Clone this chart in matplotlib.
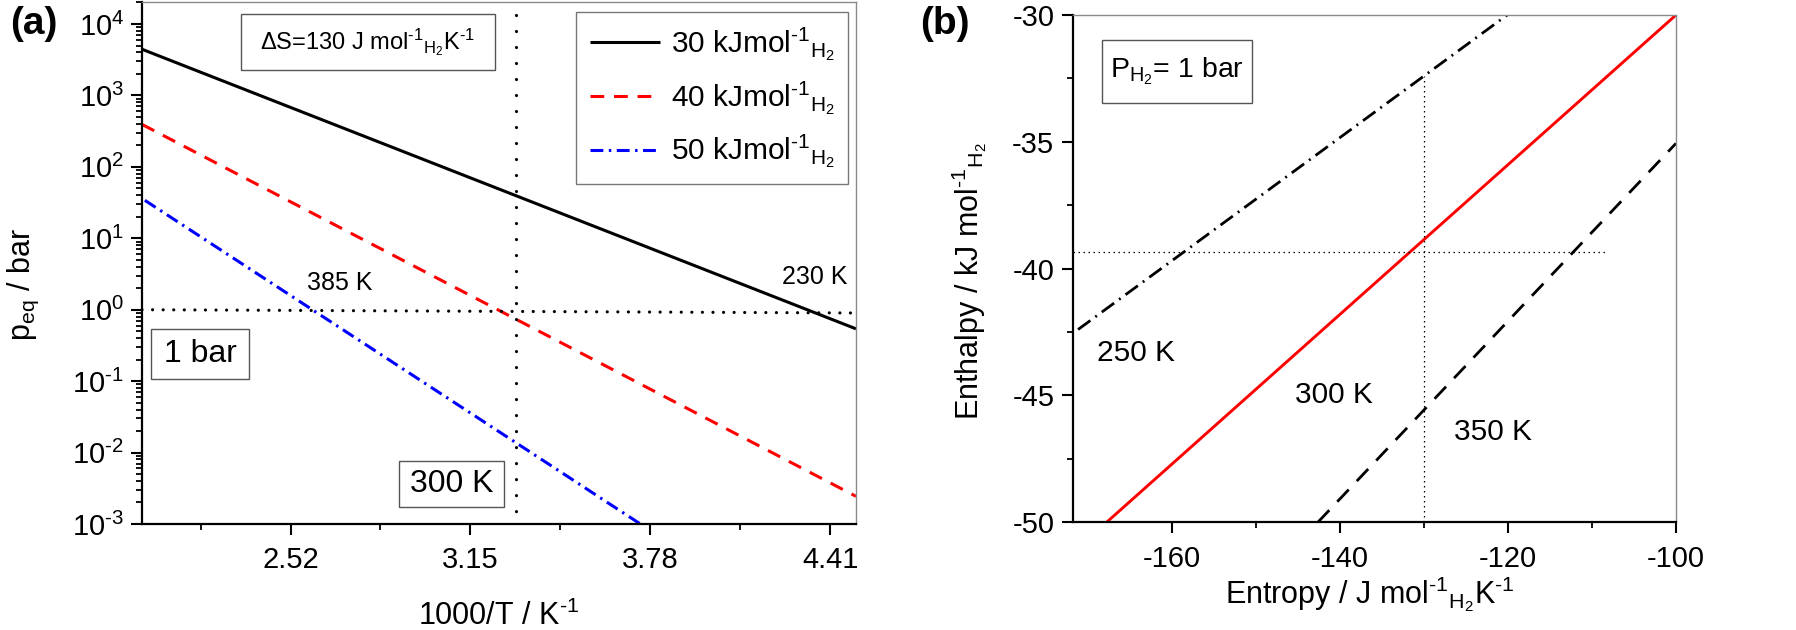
import matplotlib
matplotlib.use("Agg")
import matplotlib.pyplot as plt
from matplotlib.patches import Rectangle
from matplotlib.ticker import FixedLocator, LogLocator, NullFormatter, FixedFormatter

plt.rcParams['font.family'] = ['Liberation Sans', 'DejaVu Sans']
plt.rcParams['mathtext.fontset'] = 'custom'
plt.rcParams['mathtext.rm'] = 'Liberation Sans'
plt.rcParams['mathtext.it'] = 'Liberation Sans:italic'
plt.rcParams['mathtext.bf'] = 'Liberation Sans:bold'
plt.rcParams['axes.unicode_minus'] = False

MOL = 'mol$^{\\text{-}1}{}_{\\mathrm{H}_2}$'
KINV = 'K$^{\\text{-}1}$'

# ---------------- data: panel (a) ----------------
inv_T_30 = [2.0, 4.5]
p_30 = [4430, 0.54]
inv_T_40 = [2.0, 4.5]
p_40 = [393, 0.00244]
inv_T_50 = [2.01, 3.745]
p_50 = [34, 0.001]
hline_a_x = [2.0, 4.5]
hline_a_y = [1.0, 0.9]
vline_a_x = [3.31, 3.31]
vline_a_y = [13400, 0.00141]
a_xticks = [2.52, 3.15, 3.78, 4.41]
a_xtick_labels = ['2.52', '3.15', '3.78', '4.41']
a_xminor = [2.205, 2.835, 3.465, 4.095]
a_yticks = [1e-3, 1e-2, 1e-1, 1e0, 1e1, 1e2, 1e3, 1e4]
a_ytick_exps = ['-3', '-2', '-1', '0', '1', '2', '3', '4']
a_legend = ['30 kJ' + MOL, '40 kJ' + MOL, '50 kJ' + MOL]

# ---------------- data: panel (b) ----------------
S_300 = [-167.8, -100.0]
H_300 = [-50.0, -30.0]
S_250 = [-171.2, -120.1]
H_250 = [-42.4, -30.0]
S_350 = [-142.65, -100.0]
H_350 = [-50.0, -35.06]
vline_b_x = [-130.0, -130.0]
vline_b_y = [-50.0, -32.4]
hline_b_x = [-171.8, -108.1]
hline_b_y = [-39.35, -39.35]
b_xticks = [-160, -140, -120, -100]
b_xminor = [-150, -130, -110]
b_yticks = [-50, -45, -40, -35, -30]
b_yminor = [-47.5, -42.5, -37.5, -32.5]

W, H = 1796, 630
fig = plt.figure(figsize=(W / 100, H / 100), dpi=100)

def fx(px):
    return px / W

def fy(py):
    return 1 - py / H

axa = fig.add_axes([fx(142), fy(524), fx(856) - fx(142), fy(1.5) - fy(524)])
axb = fig.add_axes([fx(1073), fy(522.3), fx(1676) - fx(1073), fy(15) - fy(522.3)])

TICKFS = 21
for ax in (axa, axb):
    for s in ('left', 'bottom'):
        ax.spines[s].set_linewidth(1.6)
        ax.spines[s].set_color('black')
    for s in ('top', 'right'):
        ax.spines[s].set_linewidth(1.0)
        ax.spines[s].set_color('#8a8a8a')
    ax.tick_params(which='major', direction='out', length=8, width=1.5,
                   labelsize=TICKFS, top=False, right=False)
    ax.tick_params(which='minor', direction='out', length=4.5, width=1.3,
                   top=False, right=False)

# ---------------- panel (a) ----------------
axa.set_yscale('log')
lw = 2.2
axa.plot(inv_T_30, p_30, color='black', lw=lw, solid_capstyle='butt', label=a_legend[0])
axa.plot(inv_T_40, p_40, color='#ff0000', lw=lw, dashes=(4.5, 3.2), label=a_legend[1])
axa.plot(inv_T_50, p_50, color='#0000ff', lw=lw, dashes=(4.2, 1.8, 0.8, 1.8), label=a_legend[2])
axa.plot(hline_a_x, hline_a_y, color='black', lw=2.3, dashes=(0.01, 3.3),
         dash_capstyle='round')
axa.plot(vline_a_x, vline_a_y, color='black', lw=2.3, dashes=(0.01, 5.0),
         dash_capstyle='round')
axa.set_xlim(2.0, 4.5)
axa.set_ylim(1e-3, 10 ** 4.315)
axa.xaxis.set_major_locator(FixedLocator(a_xticks))
axa.xaxis.set_major_formatter(FixedFormatter(a_xtick_labels))
axa.xaxis.set_minor_locator(FixedLocator(a_xminor))
axa.yaxis.set_major_locator(FixedLocator(a_yticks))
axa.yaxis.set_major_formatter(FixedFormatter(
    ['10$^{%s}$' % e.replace('-', '\\text{-}') for e in a_ytick_exps]))
axa.yaxis.set_minor_locator(LogLocator(base=10, subs=range(2, 10), numticks=20))
axa.yaxis.set_minor_formatter(NullFormatter())
axa.tick_params(axis='x', which='major', pad=8)
axa.tick_params(axis='y', which='major', pad=5)

leg = axa.legend(loc='upper right', bbox_to_anchor=(0.989, 0.980), fontsize=21.5,
                 frameon=True, fancybox=False, edgecolor='#555555',
                 handlelength=2.35, handletextpad=0.35, labelspacing=0.55,
                 borderpad=0.45, borderaxespad=0.0)
leg.get_frame().set_linewidth(1.0)

def box(ax, x0, y0, x1, y1, text, fs, tx=None):
    ax.add_patch(Rectangle((x0, y0), x1 - x0, y1 - y0, transform=ax.transAxes,
                           fill=True, fc='white', ec='#555555', lw=1.0, zorder=5))
    cx = (x0 + x1) / 2 if tx is None else tx
    ax.text(cx, (y0 + y1) / 2, text, transform=ax.transAxes, ha='center',
            va='center', fontsize=fs, zorder=6)

def ax_a(px, py):
    return ((px - 142) / 714, 1 - (py - 1.5) / 522.5)

x0, y1 = ax_a(240.7, 14); x1, y0 = ax_a(495, 70)
box(axa, x0, y0, x1, y1, 'ΔS=130 J ' + MOL + KINV, 17)
x0, y1 = ax_a(151, 329); x1, y0 = ax_a(249, 379)
box(axa, x0, y0, x1, y1, '1 bar', 23)
x0, y1 = ax_a(399, 460.7); x1, y0 = ax_a(504, 506.7)
box(axa, x0, y0, x1, y1, '300 K', 23)

tx, ty = ax_a(307, 283)
axa.text(tx, ty, '385 K', transform=axa.transAxes, fontsize=18, ha='left', va='center')
tx, ty = ax_a(781.7, 277)
axa.text(tx, ty, '230 K', transform=axa.transAxes, fontsize=18, ha='left', va='center')

# ---------------- panel (b) ----------------
axb.plot(S_300, H_300, color='#ff0000', lw=2.1, solid_capstyle='butt')
axb.plot(S_250, H_250, color='black', lw=2.0, dashes=(5.5, 2.2, 0.7, 2.2))
axb.plot(S_350, H_350, color='black', lw=2.0, dashes=(6.0, 4.2))
axb.plot(vline_b_x, vline_b_y, color='black', lw=0.9, dashes=(1.2, 2.8))
axb.plot(hline_b_x, hline_b_y, color='black', lw=0.9, dashes=(1.2, 2.8))
axb.set_xlim(-171.8, -100)
axb.set_ylim(-50, -30)
axb.xaxis.set_major_locator(FixedLocator(b_xticks))
axb.xaxis.set_minor_locator(FixedLocator(b_xminor))
axb.yaxis.set_major_locator(FixedLocator(b_yticks))
axb.yaxis.set_minor_locator(FixedLocator(b_yminor))
axb.tick_params(axis='x', which='major', pad=8.5)
axb.tick_params(axis='y', which='major', pad=5.5)

def ax_b(px, py):
    return ((px - 1073) / 603, 1 - (py - 15) / 507.3)

x0, y1 = ax_b(1101.7, 40); x1, y0 = ax_b(1252, 102.7)
box(axb, x0, y0, x1, y1, 'P$_{\\mathrm{H}_2}$= 1 bar', 20.5)
for lab, px, py in (('250 K', 1097, 353), ('300 K', 1295, 395), ('350 K', 1454, 432)):
    tx, ty = ax_b(px, py)
    axb.text(tx, ty, lab, transform=axb.transAxes, fontsize=21.5, ha='left', va='center')

# ---------------- labels ----------------
fig.text(fx(23.5), fy(285), 'p$_{\\mathrm{eq}}$ / bar', rotation=90, ha='center',
         va='center', fontsize=22)
fig.text(fx(499), fy(625), '1000/T / ' + KINV, ha='center', va='baseline', fontsize=22)
fig.text(fx(969), fy(281), 'Enthalpy / kJ ' + MOL, rotation=90,
         ha='center', va='center', fontsize=22)
fig.text(fx(1370), fy(603), 'Entropy / J ' + MOL + KINV,
         ha='center', va='baseline', fontsize=22)
fig.text(fx(10), fy(24), '(a)', fontsize=28, fontweight='bold', ha='left', va='center')
fig.text(fx(920), fy(24), '(b)', fontsize=28, fontweight='bold', ha='left', va='center')

fig.savefig('out.png', dpi=100)
